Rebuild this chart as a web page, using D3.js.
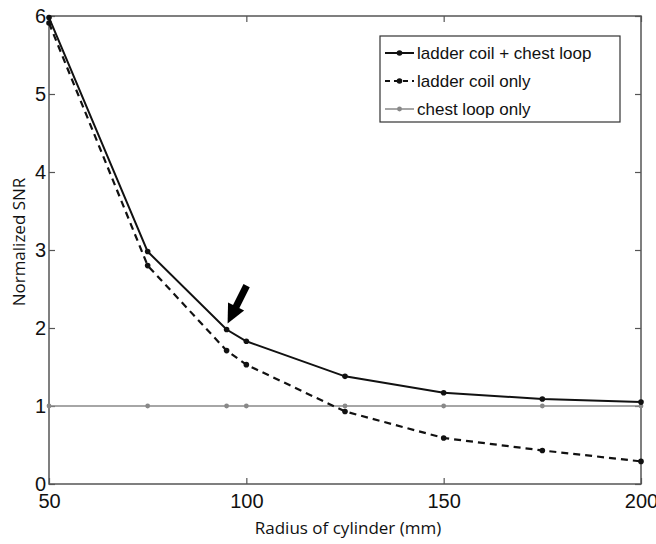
<!DOCTYPE html>
<html>
<head>
<meta charset="utf-8">
<script src="https://cdn.jsdelivr.net/npm/d3@7"></script>
<style>
  body { margin: 0; background: #fff; }
  svg { display: block; }
</style>
</head>
<body>
<script>
// data
var radius = [50, 75, 95, 100, 125, 150, 175, 200];
var ladderChest = [5.98, 2.98, 1.98, 1.83, 1.38, 1.17, 1.09, 1.05];
var ladderOnly = [5.91, 2.80, 1.71, 1.53, 0.93, 0.59, 0.43, 0.29];
var chestOnly = [1, 1, 1, 1, 1, 1, 1, 1];
var xTicks = [50, 100, 150, 200];
var yTicks = [0, 1, 2, 3, 4, 5, 6];
var seriesNames = ["ladder coil + chest loop", "ladder coil only", "chest loop only"];

var W = 656, H = 544;
var margin = {top: 16, right: 15, bottom: 60, left: 49},
    width = W - margin.left - margin.right,
    height = H - margin.top - margin.bottom;

var x = d3.scaleLinear().domain([50, 200]).range([0, width]);
var y = d3.scaleLinear().domain([0, 6]).range([height, 0]);

var svg = d3.select("body").append("svg")
    .attr("width", W)
    .attr("height", H)
  .append("g")
    .attr("transform", "translate(" + margin.left + "," + margin.top + ")");

var axisColor = "#555";

// frame
svg.append("rect")
    .attr("width", width).attr("height", height)
    .attr("fill", "none").attr("stroke", axisColor).attr("stroke-width", 1.5);

// inward ticks on all four sides
function styleAxis(g) {
  g.select(".domain").remove();
  g.selectAll(".tick line").attr("stroke", axisColor).attr("stroke-width", 1.2);
  g.selectAll(".tick text")
    .attr("fill", "#111")
    .style("font-family", "'Liberation Sans', Arial, sans-serif")
    .style("font-size", "20px");
}

svg.append("g")
    .attr("transform", "translate(0," + height + ")")
    .call(d3.axisBottom(x).tickValues(xTicks).tickSize(-6).tickPadding(10).tickFormat(d3.format("d")))
    .call(styleAxis);
svg.append("g")
    .call(d3.axisTop(x).tickValues(xTicks).tickSize(-6).tickFormat(""))
    .call(styleAxis);
svg.append("g")
    .call(d3.axisLeft(y).tickValues(yTicks).tickSize(-6).tickPadding(3).tickFormat(d3.format("d")))
    .call(styleAxis);
svg.append("g")
    .attr("transform", "translate(" + width + ",0)")
    .call(d3.axisRight(y).tickValues(yTicks).tickSize(-6).tickFormat(""))
    .call(styleAxis);

// axis labels
svg.append("text")
    .attr("x", width / 2 + 3)
    .attr("y", height + 50)
    .attr("text-anchor", "middle")
    .style("font-family", "'Open Sans', sans-serif")
    .style("font-size", "17px")
    .attr("fill", "#111")
    .text("Radius of cylinder (mm)");

svg.append("text")
    .attr("transform", "rotate(-90)")
    .attr("x", -height / 2 + 8)
    .attr("y", -24)
    .attr("text-anchor", "middle")
    .style("font-family", "'Open Sans', sans-serif")
    .style("font-size", "17px")
    .attr("fill", "#111")
    .text("Normalized SNR");

var styles = [
  {values: ladderChest, color: "#111", width: 2, dash: null, r: 2.8},
  {values: ladderOnly, color: "#111", width: 2.2, dash: "7,5", r: 2.8},
  {values: chestOnly, color: "#888", width: 1.5, dash: null, r: 2.4}
];

var line = d3.line()
    .x(function(d) { return x(d[0]); })
    .y(function(d) { return y(d[1]); });

// draw chest loop first so the black lines sit on top
[2, 1, 0].forEach(function(i) {
  var s = styles[i];
  var pts = radius.map(function(r, k) { return [r, s.values[k]]; });
  svg.append("path")
      .datum(pts)
      .attr("fill", "none")
      .attr("stroke", s.color)
      .attr("stroke-width", s.width)
      .attr("stroke-dasharray", s.dash)
      .attr("d", line);
  svg.selectAll(null)
      .data(pts)
      .enter().append("circle")
      .attr("cx", function(d) { return x(d[0]); })
      .attr("cy", function(d) { return y(d[1]); })
      .attr("r", s.r)
      .attr("fill", s.color);
});

// arrow pointing at the 95 mm point
var tipX = x(95) + 1, tipY = y(ladderChest[2]) - 6;
var ang = Math.atan2(36, -18);
svg.append("line")
    .attr("x1", tipX + 19).attr("y1", tipY - 38)
    .attr("x2", tipX + 6).attr("y2", tipY - 12)
    .attr("stroke", "#000").attr("stroke-width", 7);
var hx = Math.cos(ang), hy = Math.sin(ang);
var bx = tipX - hx * 19, by = tipY - hy * 19;
svg.append("path")
    .attr("d", "M" + tipX + "," + tipY +
      "L" + (bx - hy * 9) + "," + (by + hx * 9) +
      "L" + (bx + hy * 9) + "," + (by - hx * 9) + "Z")
    .attr("fill", "#000");

// legend
var legend = svg.append("g").attr("transform", "translate(331,20)");
legend.append("rect")
    .attr("width", 240).attr("height", 86)
    .attr("fill", "#fff").attr("stroke", "#333").attr("stroke-width", 1.2);

seriesNames.forEach(function(name, i) {
  var s = styles[i];
  var g = legend.append("g").attr("transform", "translate(0," + (17 + i * 28) + ")");
  g.append("line")
      .attr("x1", 5).attr("x2", 34)
      .attr("stroke", s.color)
      .attr("stroke-width", s.width)
      .attr("stroke-dasharray", s.dash ? "5,4" : null);
  g.append("circle").attr("cx", 19.5).attr("r", s.r).attr("fill", s.color);
  g.append("text")
      .attr("x", 37).attr("y", 6)
      .style("font-family", "'Liberation Sans', Arial, sans-serif")
      .style("font-size", "17px")
      .attr("fill", "#111")
      .text(name);
});
</script>
</body>
</html>
